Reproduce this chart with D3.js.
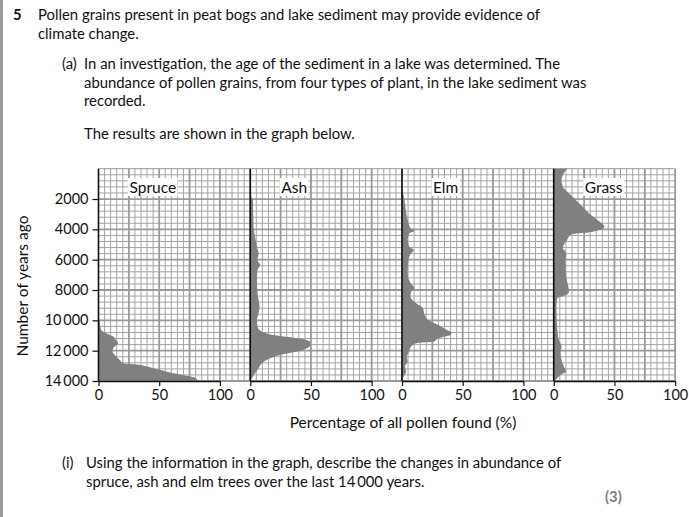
<!DOCTYPE html>
<html>
<head>
<meta charset="utf-8">
<script src="https://cdn.jsdelivr.net/npm/d3@7/dist/d3.min.js"></script>
<style>
  html, body { margin: 0; padding: 0; background: #fff; }
  svg { display: block; font-family: Lato, "Open Sans", sans-serif; }
</style>
</head>
<body>
<svg id="chart" width="689" height="517"></svg>
<script>
// ---------- data (years ago, % of all pollen) ----------
const plants = ["Spruce", "Ash", "Elm", "Grass"];

const spruce = [[9500,0],[9980,0.8],[10630,2.2],[10850,6.4],[11070,12],[11290,14.2],[11510,16.2],[11620,14.8],
  [11840,12],[12060,11.5],[12280,13.4],[12610,17.6],[12830,20.4],[12940,34.4],[13050,40],[13270,51],
  [13490,62],[13710,76],[13820,80.4],[14000,81.8]];

const ash = [[1800,0],[2060,2.2],[3820,2.7],[4480,4],[5140,5.5],[5580,6.9],[6020,6],[6350,8.2],[6680,6],
  [7340,5.5],[8220,6],[8650,6.9],[9100,7.7],[9540,6.9],[9980,5.5],[10420,6],[10750,9.6],[10960,19],
  [11120,33],[11250,44],[11400,49],[11620,49.5],[11840,46.7],[12060,38.5],[12280,24.7],[12500,16.5],
  [12830,9.6],[13160,6.9],[13490,4],[13820,1.4],[14000,0]];

const elm = [[1290,0],[2060,2],[3380,4.7],[3930,7],[4090,10.3],[4260,6],[4700,4.7],[5140,6],[5360,9.8],
  [5580,7.5],[6020,5.3],[6900,4.7],[7560,7],[7890,10.3],[8110,7.5],[8440,7],[8870,11.7],[9200,17.3],
  [9640,18.7],[9980,21.5],[10300,29.9],[10630,36.9],[10810,41],[10960,39.7],[11180,29.9],[11400,26.5],
  [11510,11.7],[11730,7.5],[12060,6],[12390,4],[12720,4.7],[13050,2.5],[13380,3.4],[13710,1.4],[14000,0]];

const grass = [[0,11],[300,8.3],[750,6.4],[1190,7.5],[1620,12.5],[2060,18],[2500,23.6],[2940,29],
  [3380,36],[3820,41.7],[4040,37.5],[4220,26.4],[4300,15.3],[4480,12.5],[4700,11],[5030,8.3],[5250,7.5],
  [5470,9.7],[5690,10.3],[6020,9.7],[7120,10.3],[7780,12],[8110,12.5],[8330,10.3],[8550,2.8],[9100,2.2],
  [9980,2.5],[10420,2.8],[11290,4.2],[11730,6.4],[12170,5.6],[12610,6.4],[13050,8.3],[13380,10.3],
  [13600,5.6],[13820,2.8],[14000,0.8]];

const series = [spruce, ash, elm, grass];

const yTickValues = [2000, 4000, 6000, 8000, 10000, 12000, 14000];
const yTickLabels = ["2000", "4000", "6000", "8000", "10\u2009000", "12\u2009000", "14\u2009000"];
const xTickValues = [0, 50, 100];

const yTitle = "Number of years ago";
const xTitle = "Percentage of all pollen found (%)";

const headLines = [
  "Pollen grains present in peat bogs and lake sediment may provide evidence of",
  "climate change."
];
const partA = [
  "In an investigation, the age of the sediment in a lake was determined.  The",
  "abundance of pollen grains, from four types of plant, in the lake sediment was",
  "recorded."
];
const resultsLine = "The results are shown in the graph below.";
const partI = [
  "Using the information in the graph, describe the changes in abundance of",
  "spruce, ash and elm trees over the last 14\u2009000 years."
];

// ---------- layout ----------
const svg = d3.select("#chart");
const W = 689, H = 517;
const panelLeft = 98.5, pctPx = 1.214, stride = 125 * pctPx;
const yTop = 168.7, yBottom = 381;

const y = d3.scaleLinear().domain([0, 14000]).range([yTop, yBottom]);

// page margin bar
svg.append("rect").attr("x", 0).attr("y", 0).attr("width", 3).attr("height", H).attr("fill", "#9a9a9a");

// ---------- text ----------
const bodySize = 15;
const txt = svg.append("g").attr("fill", "#111").style("font-size", bodySize + "px");
const fitNodes = [];
txt.append("text").attr("x", 13).attr("y", 20).attr("font-weight", "bold").text("5");
headLines.forEach((t, i) => {
  const n = txt.append("text").attr("x", 38).attr("y", 20 + i * 18.5).text(t);
  if (i === 0) fitNodes.push([n.node(), 524]);
});
txt.append("text").attr("x", 62).attr("y", 69).text("(a)");
partA.forEach((t, i) => {
  const n = txt.append("text").attr("x", 84).attr("y", 69 + i * 18.5).text(t);
  if (i === 0) fitNodes.push([n.node(), 472]);
  if (i === 1) fitNodes.push([n.node(), 497]);
});
fitNodes.push([txt.append("text").attr("x", 84).attr("y", 139).text(resultsLine).node(), 256]);
txt.append("text").attr("x", 62).attr("y", 468).text("(i)");
partI.forEach((t, i) => {
  const n = txt.append("text").attr("x", 86).attr("y", 468 + i * 18.5).text(t);
  if (i === 0) fitNodes.push([n.node(), 492]);
});
txt.append("text").attr("x", 605).attr("y", 502).attr("font-weight", "bold").attr("fill", "#808080").text("(3)");

const ratios = fitNodes.map(([n, w]) => w / n.getComputedTextLength()).filter(v => isFinite(v) && v > 0.5 && v < 2);
const r = ratios.length ? d3.mean(ratios) : 1;
txt.style("font-size", (bodySize * r) + "px");

// ---------- panels ----------
series.forEach((data, i) => {
  const x0 = panelLeft + i * stride;
  const x = d3.scaleLinear().domain([0, 100]).range([x0, x0 + 100 * pctPx]);
  const gridMax = i < 3 ? 125 : 100;
  const g = svg.append("g");

  const minorX = d3.range(0, gridMax + 0.01, 5);
  const minorY = d3.range(0, 14001, 400);
  g.append("g").selectAll("line").data(minorX.filter(v => v % 25 !== 0)).join("line")
    .attr("x1", d => x(d)).attr("x2", d => x(d)).attr("y1", y(0)).attr("y2", y(14000))
    .attr("stroke", "#a4a4a4").attr("stroke-width", 1);
  g.append("g").selectAll("line").data(minorY.filter(v => v % 2000 !== 0)).join("line")
    .attr("x1", x(0)).attr("x2", x(gridMax)).attr("y1", d => y(d)).attr("y2", d => y(d))
    .attr("stroke", "#a4a4a4").attr("stroke-width", 1);
  g.append("g").selectAll("line").data(minorX.filter(v => v % 25 === 0 && v > 0)).join("line")
    .attr("x1", d => x(d)).attr("x2", d => x(d)).attr("y1", y(0)).attr("y2", y(14000))
    .attr("stroke", "#999").attr("stroke-width", 1.8);
  g.append("g").selectAll("line").data(d3.range(0, 14001, 2000)).join("line")
    .attr("x1", x(0)).attr("x2", x(gridMax)).attr("y1", d => y(d)).attr("y2", d => y(d))
    .attr("stroke", "#999").attr("stroke-width", d => d === 0 ? 1 : 1.8);

  const area = d3.area()
    .y(d => y(d[0]))
    .x0(x(0))
    .x1(d => x(d[1]))
    .curve(d3.curveMonotoneY);
  g.append("path").datum(data).attr("d", area).attr("fill", "#808080");

  const lab = g.append("g");
  const lt = lab.append("text").attr("x", x(25.5)).attr("y", 193)
    .style("font-size", "15.5px").attr("fill", "#111").text(plants[i]);
  const bb = lt.node().getBBox();
  lab.insert("rect", "text").attr("x", bb.x - 1.5).attr("y", bb.y).attr("width", bb.width + 3)
    .attr("height", bb.height).attr("fill", "#fff");

  const xAxis = d3.axisBottom(x).tickValues(xTickValues).tickSize(5).tickSizeOuter(0).tickPadding(4);
  const ax = g.append("g").attr("transform", `translate(0,${yBottom})`).call(xAxis);
  ax.select(".domain").attr("stroke", "#111").attr("stroke-width", 1.6);
  ax.selectAll(".tick line").attr("stroke", "#111").attr("stroke-width", 1.2);
  ax.selectAll("text").style("font-size", "14.5px").style("font-family", "Lato, sans-serif").attr("fill", "#111");

  g.append("line").attr("x1", x(0)).attr("x2", x(0)).attr("y1", y(0)).attr("y2", yBottom)
    .attr("stroke", "#111").attr("stroke-width", 1.6);
});

const yAxis = d3.axisLeft(y).tickValues(yTickValues).tickFormat((d, i) => yTickLabels[i])
  .tickSize(6).tickSizeOuter(0).tickPadding(4);
const ay = svg.append("g").attr("transform", `translate(${panelLeft},0)`).call(yAxis);
ay.select(".domain").remove();
ay.selectAll(".tick line").attr("stroke", "#111").attr("stroke-width", 1.2);
ay.selectAll("text").style("font-size", "14.5px").style("font-family", "Lato, sans-serif").attr("fill", "#111");

svg.append("text").attr("x", 403).attr("y", 428).attr("text-anchor", "middle")
  .style("font-size", "15.5px").attr("fill", "#111").text(xTitle);
svg.append("text").attr("transform", `translate(28,286) rotate(-90)`).attr("text-anchor", "middle")
  .style("font-size", "15.5px").attr("fill", "#111").text(yTitle);
</script>
</body>
</html>
